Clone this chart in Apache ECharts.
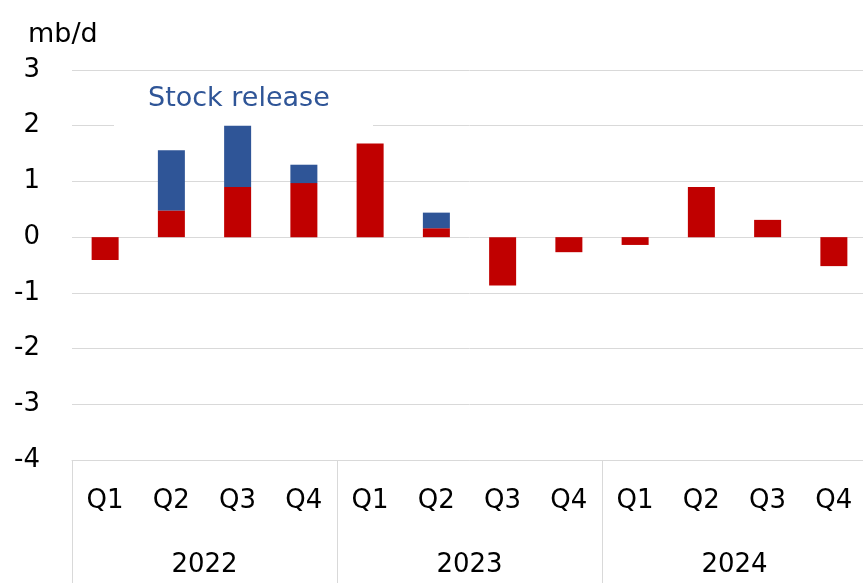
<!DOCTYPE html>
<html>
<head>
<meta charset="utf-8">
<script src="https://cdn.jsdelivr.net/npm/echarts@6/dist/echarts.min.js"></script>
<style>
  html, body { margin: 0; padding: 0; background: #fff; overflow: hidden; }
  #chart { width: 867px; height: 583px; }
</style>
</head>
<body>
<div id="chart"></div>
<script>
// Quarterly change, mb/d
const quarters = ['Q1', 'Q2', 'Q3', 'Q4', 'Q1', 'Q2', 'Q3', 'Q4', 'Q1', 'Q2', 'Q3', 'Q4'];
const years = ['2022', '2023', '2024'];
const baseValues = [-0.41, 0.48, 0.90, 0.97, 1.68, 0.16, -0.87, -0.27, -0.14, 0.90, 0.31, -0.52];
const stockRelease = [0, 1.08, 1.10, 0.33, 0, 0.28, 0, 0, 0, 0, 0, 0];
const yTicks = { min: -4, max: 3, interval: 1 };

const FONT = 'DejaVu Sans';
const GRID_COLOR = '#D9D9D9';

const chart = echarts.init(document.getElementById('chart'), null, { renderer: 'canvas' });

chart.setOption({
  animation: false,
  textStyle: { fontFamily: FONT },
  title: {
    text: 'mb/d',
    left: 23,
    top: 16,
    textStyle: { fontFamily: FONT, fontSize: 27, fontWeight: 'normal', color: '#000' }
  },
  // the plot area runs a few pixels past the right edge of the page
  grid: { left: 72, right: 0, top: 70, bottom: 123, containLabel: false },
  xAxis: [
    {
      type: 'category',
      data: quarters,
      position: 'bottom',
      axisLine: { onZero: false, lineStyle: { color: GRID_COLOR, width: 1 } },
      axisTick: { show: false },
      axisLabel: { margin: 28, fontSize: 26, color: '#000', fontFamily: FONT, interval: 0 }
    },
    {
      type: 'category',
      data: years,
      position: 'bottom',
      axisLine: { show: false, onZero: false },
      axisTick: { show: true, length: 125, lineStyle: { color: GRID_COLOR, width: 1 } },
      axisLabel: { margin: 92, fontSize: 26, color: '#000', fontFamily: FONT }
    }
  ],
  yAxis: {
    type: 'value',
    min: yTicks.min,
    max: yTicks.max,
    interval: yTicks.interval,
    axisLine: { show: false },
    axisTick: { show: false },
    axisLabel: { margin: 32, fontSize: 26, color: '#000', fontFamily: FONT },
    splitLine: { lineStyle: { color: GRID_COLOR, width: 1 } }
  },
  graphic: [
    {
      type: 'rect',
      z: 1,
      shape: { x: 114, y: 80, width: 259, height: 47 },
      style: { fill: '#fff' }
    },
    {
      type: 'text',
      z: 1,
      x: 148,
      y: 99,
      style: {
        text: 'Stock release',
        fill: '#2F5597',
        fontFamily: FONT,
        fontSize: 27,
        verticalAlign: 'middle',
        align: 'left'
      }
    }
  ],
  series: [
    {
      name: 'Base',
      type: 'bar',
      stack: 'total',
      barWidth: 27,
      data: baseValues,
      itemStyle: { color: '#C00000' },
      z: 3
    },
    {
      name: 'Stock release',
      type: 'bar',
      stack: 'total',
      barWidth: 27,
      data: stockRelease,
      itemStyle: { color: '#2F5597' },
      z: 3
    }
  ]
});
</script>
</body>
</html>
